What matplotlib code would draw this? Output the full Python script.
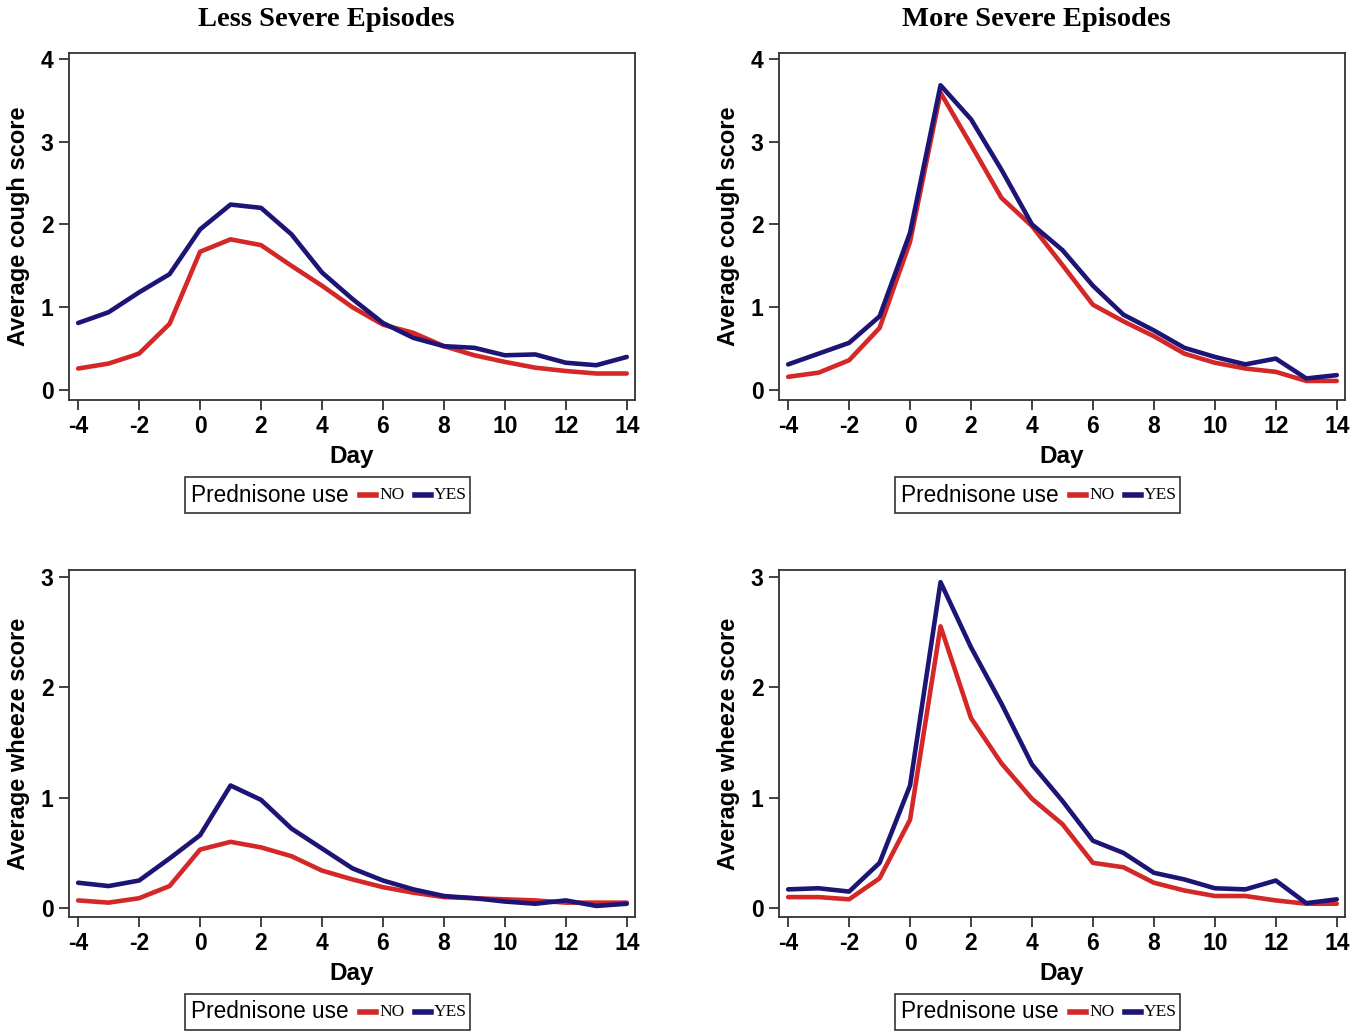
import matplotlib
matplotlib.use("Agg")
import matplotlib.pyplot as plt
from matplotlib.patches import Rectangle
from matplotlib.lines import Line2D

days = list(range(-4, 15))

cough_less_no = [0.26, 0.32, 0.44, 0.80, 1.67, 1.82, 1.75, 1.50, 1.26, 1.00, 0.79, 0.69, 0.53, 0.42, 0.34, 0.27, 0.23, 0.20, 0.20]
cough_less_yes = [0.81, 0.94, 1.18, 1.40, 1.94, 2.24, 2.20, 1.88, 1.42, 1.10, 0.81, 0.63, 0.53, 0.51, 0.42, 0.43, 0.33, 0.30, 0.40]
cough_more_no = [0.16, 0.21, 0.36, 0.75, 1.79, 3.59, 2.96, 2.32, 1.98, 1.51, 1.03, 0.83, 0.65, 0.44, 0.33, 0.26, 0.22, 0.11, 0.11]
cough_more_yes = [0.31, 0.44, 0.57, 0.89, 1.90, 3.68, 3.27, 2.66, 2.00, 1.69, 1.26, 0.91, 0.72, 0.51, 0.40, 0.31, 0.38, 0.14, 0.18]
wheeze_less_no = [0.07, 0.05, 0.09, 0.20, 0.53, 0.60, 0.55, 0.47, 0.34, 0.26, 0.19, 0.14, 0.10, 0.09, 0.08, 0.07, 0.05, 0.05, 0.05]
wheeze_less_yes = [0.23, 0.20, 0.25, 0.45, 0.66, 1.11, 0.98, 0.72, 0.54, 0.36, 0.25, 0.17, 0.11, 0.09, 0.06, 0.04, 0.07, 0.02, 0.04]
wheeze_more_no = [0.10, 0.10, 0.08, 0.27, 0.80, 2.55, 1.72, 1.31, 0.99, 0.76, 0.41, 0.37, 0.23, 0.16, 0.11, 0.11, 0.07, 0.04, 0.04]
wheeze_more_yes = [0.17, 0.18, 0.15, 0.41, 1.11, 2.95, 2.36, 1.85, 1.30, 0.97, 0.61, 0.50, 0.32, 0.26, 0.18, 0.17, 0.25, 0.045, 0.08]

x_ticks = [-4, -2, 0, 2, 4, 6, 8, 10, 12, 14]
col_titles = ["Less Severe Episodes", "More Severe Episodes"]
ylabels = ["Average cough score", "Average wheeze score"]
legend_title = "Prednisone use"
legend_labels = ["NO", "YES"]

RED = "#d42727"
BLUE = "#1c1576"
SANS = "Liberation Sans"
SERIF = "Liberation Serif"

W, H = 1369, 1032
fig = plt.figure(figsize=(W / 100, H / 100), dpi=100)

panels = [
    (0, 0, cough_less_no, cough_less_yes, [0, 1, 2, 3, 4], (-0.12, 4.07)),
    (0, 1, cough_more_no, cough_more_yes, [0, 1, 2, 3, 4], (-0.12, 4.07)),
    (1, 0, wheeze_less_no, wheeze_less_yes, [0, 1, 2, 3], (-0.08, 3.06)),
    (1, 1, wheeze_more_no, wheeze_more_yes, [0, 1, 2, 3], (-0.08, 3.06)),
]

lefts = [69, 779]
tops = [53, 570]
box_w = 566
box_h = 347

for r, c, no, yes, yt, yl in panels:
    left = lefts[c] / W
    bottom = 1 - (tops[r] + box_h) / H
    ax = fig.add_axes([left, bottom, box_w / W, box_h / H])
    ax.plot(days, no, color=RED, lw=3.3, solid_capstyle="round", solid_joinstyle="round")
    ax.plot(days, yes, color=BLUE, lw=3.3, solid_capstyle="round", solid_joinstyle="round")
    ax.set_xlim(-4.3, 14.27)
    ax.set_ylim(*yl)
    ax.set_xticks(x_ticks)
    ax.set_yticks(yt)
    ax.set_xticklabels([str(v) for v in x_ticks], fontfamily=SANS, fontsize=16.5, fontweight="bold")
    ax.set_yticklabels([str(v) for v in yt], fontfamily=SANS, fontsize=16.5, fontweight="bold")
    ax.tick_params(direction="out", length=7, width=1.3, color="#333333", pad=4)
    for s in ax.spines.values():
        s.set_color("#333333")
        s.set_linewidth(1.3)
    ax.set_xlabel("Day", fontfamily=SANS, fontsize=17.5, fontweight="bold", labelpad=5)
    ax.set_ylabel(ylabels[r], fontfamily=SANS, fontsize=17, fontweight="bold", labelpad=8)
    if r == 0:
        fig.text((lefts[c] + box_w / 2 - 26) / W, 1 - 19 / H, col_titles[c],
                 ha="center", va="center", fontfamily=SERIF, fontsize=20.5, fontweight="bold")

    # legend box
    lx = lefts[c] + 116
    ly = tops[r] + 424
    fig.patches.append(Rectangle((lx / W, 1 - (ly + 36) / H), 285 / W, 36 / H,
                                 transform=fig.transFigure, fill=False,
                                 edgecolor="#333333", lw=1.2))
    cy = 1 - (ly + 18) / H
    fig.text((lx + 6) / W, cy, legend_title, ha="left", va="center",
             fontfamily=SANS, fontsize=16.3)
    for i, (lab, colr) in enumerate(zip(legend_labels, [RED, BLUE])):
        x0 = lx + 175 + i * 55
        fig.lines.append(Line2D([x0 / W, (x0 + 16) / W], [cy, cy], transform=fig.transFigure,
                                color=colr, lw=4))
        fig.text((x0 + 19) / W, cy, lab, ha="left", va="center",
                 fontfamily=SERIF, fontsize=12.5)

fig.savefig("out.png", dpi=100)
